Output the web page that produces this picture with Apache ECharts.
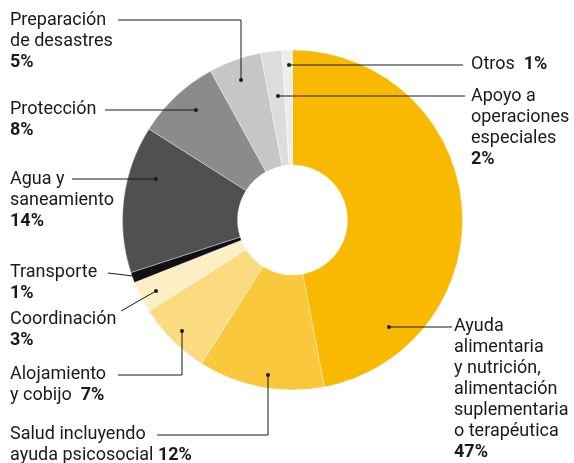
<!DOCTYPE html>
<html>
<head>
<meta charset="utf-8">
<script src="https://cdn.jsdelivr.net/npm/echarts@6/dist/echarts.min.js"></script>
<style>
  html, body { margin: 0; padding: 0; background: #fff; }
  #output { width: 574px; height: 463px; }
</style>
</head>
<body>
<div id="output"></div>
<script>
const chart = echarts.init(document.getElementById('output'));

// clockwise from 12 o'clock
const categories = [
  'Ayuda alimentaria y nutrición, alimentación suplementaria o terapéutica',
  'Salud incluyendo ayuda psicosocial',
  'Alojamiento y cobijo',
  'Coordinación',
  'Transporte',
  'Agua y saneamiento',
  'Protección',
  'Preparación de desastres',
  'Apoyo a operaciones especiales',
  'Otros'
]
const labelLines = [
  ['Ayuda', 'alimentaria', 'y nutrición,', 'alimentación', 'suplementaria', 'o terapéutica', ''],
  ['Salud incluyendo', 'ayuda psicosocial '],
  ['Alojamiento', 'y cobijo  '],
  ['Coordinación', ''],
  ['Transporte', ''],
  ['Agua y', 'saneamiento', ''],
  ['Protección', ''],
  ['Preparación', 'de desastres', ''],
  ['Apoyo a', 'operaciones', 'especiales', ''],
  ['Otros  ']
]
const values = [47, 12, 7, 3, 1, 14, 8, 5, 2, 1]
const colors = ['#f8b900', '#f9c83c', '#fbdb80', '#fdeec6', '#111111',
  '#505052', '#8b8b8c', '#c6c6c7', '#dcdcdd', '#ededed']

// label placement: text top-left and leader line points (first point = dot)
const layouts = [
  { x: 454, y: 316, line: [[389, 327], [452, 327]] },
  { x: 10, y: 424, line: [[268, 375], [268, 435], [157, 435]] },
  { x: 10, y: 364, line: [[182, 331], [182, 375], [118, 375]] },
  { x: 10, y: 309, line: [[156, 291], [121, 311]] },
  { x: 10, y: 262, line: [[133, 276], [108, 273]], noDot: true },
  { x: 10, y: 169, line: [[156, 179], [72, 179]] },
  { x: 10, y: 99, line: [[196, 110], [105, 110]] },
  { x: 10, y: 10, line: [[241, 80], [241, 20], [118, 20]] },
  { x: 471, y: 86, line: [[278, 96], [465, 96]] },
  { x: 471, y: 54, line: [[289, 65], [463, 65]] }
]

const total = values.reduce((a, b) => a + b, 0)

const leaders = []
layouts.forEach(l => {
  leaders.push({
    type: 'polyline',
    shape: { points: l.line },
    style: { stroke: '#1a1a1a', lineWidth: 1, fill: null },
    z: 100
  })
  if (!l.noDot) {
    leaders.push({
      type: 'circle',
      shape: { cx: l.line[0][0], cy: l.line[0][1], r: 2 },
      style: { fill: '#1a1a1a' },
      z: 100
    })
  }
})

chart.setOption({
  animation: false,
  textStyle: { fontFamily: 'Roboto' },
  graphic: leaders,
  series: [{
    type: 'pie',
    center: [292.5, 220],
    radius: [55, 170],
    startAngle: 90,
    clockwise: true,
    itemStyle: { borderColor: 'rgba(255,255,255,0.6)', borderWidth: 0.6 },
    label: {
      show: true,
      position: 'inside',
      color: '#1a1a1a',
      textBorderWidth: 0,
      fontSize: 18,
      lineHeight: 21,
      fontFamily: 'Roboto',
      formatter: p => {
        const lines = labelLines[p.dataIndex].slice()
        const pct = Math.round(p.value / total * 100) + '%'
        lines[lines.length - 1] += '{b|' + pct + '}'
        return lines.join('\n')
      },
      rich: {
        b: { fontWeight: 'bold', fontSize: 18, lineHeight: 21, color: '#1a1a1a', fontFamily: 'Roboto' }
      }
    },
    labelLine: { show: false },
    labelLayout: params => {
      const l = layouts[params.dataIndex]
      return { x: l.x, y: l.y, align: 'left', verticalAlign: 'top' }
    },
    data: categories.map((name, i) => ({
      name,
      value: values[i],
      itemStyle: { color: colors[i] }
    }))
  }]
})
</script>
</body>
</html>
